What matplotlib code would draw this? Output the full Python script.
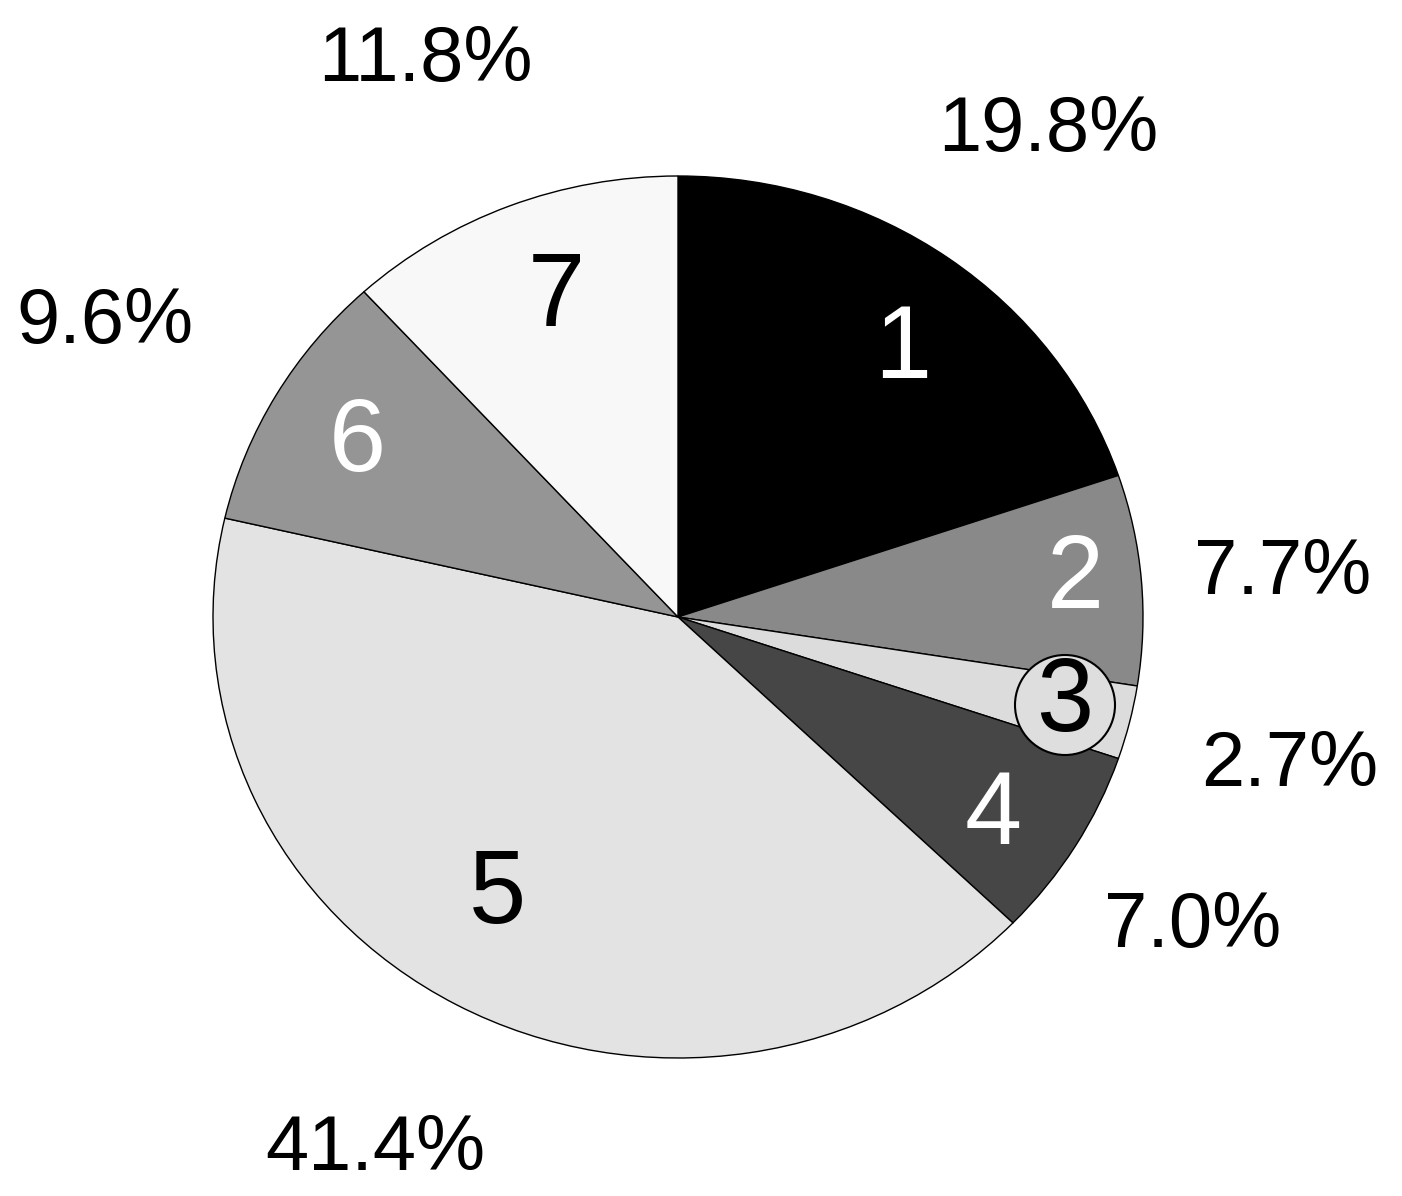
import matplotlib.pyplot as plt
from matplotlib.patches import Ellipse
import numpy as np

plt.rcParams['font.family'] = ['Liberation Sans', 'DejaVu Sans']

# --- data ---
segments = ["1", "2", "3", "4", "5", "6", "7"]
shares = [19.8, 7.7, 2.7, 7.0, 41.4, 9.6, 11.8]
pct_labels = ["19.8%", "7.7%", "2.7%", "7.0%", "41.4%", "9.6%", "11.8%"]
colors = ["#000000", "#898989", "#dcdcdc", "#464646", "#e3e3e3", "#959595", "#f8f8f8"]
num_colors = ["white", "white", "black", "white", "black", "white", "black"]

# pixel geometry of the (slightly squashed) pie in the target image
W, H = 1402, 1196
cx, cy, rx, ry = 678, 617, 465, 441


def to_data(px, py):
    return (px - cx) / rx, (cy - py) / ry


# label centres, in image pixels
num_pos = [(903, 352), (1075, 582), (1065, 705), (993, 818), (497, 897), (357, 445), (556, 300)]
pct_pos = [(1048, 131), (1283, 573), (1290, 765), (1193, 927), (375, 1150), (105, 322), (425, 60)]

fig = plt.figure(figsize=(W / 100, H / 100), dpi=100)
ax = fig.add_axes([0, 0, 1, 1])

ax.pie(shares, colors=colors, startangle=90, counterclock=False,
       wedgeprops=dict(edgecolor="black", linewidth=1.0))
ax.set_aspect("auto")
ax.set_xlim(-cx / rx, (W - cx) / rx)
ax.set_ylim((cy - H) / ry, cy / ry)
ax.axis("off")

# circle behind label 3
x3, y3 = to_data(*num_pos[2])
ax.add_patch(Ellipse((x3, y3), 2 * 50 / rx, 2 * 50 / ry, facecolor="#dedede",
                     edgecolor="black", linewidth=1.5, zorder=3))

for name, (px, py), col in zip(segments, num_pos, num_colors):
    x, y = to_data(px, py)
    ax.text(x, y, name, color=col, fontsize=74, ha="center", va="center", zorder=4)

for lab, (px, py) in zip(pct_labels, pct_pos):
    x, y = to_data(px, py)
    ax.text(x, y, lab, color="black", fontsize=56, ha="center", va="center")

fig.savefig("out.png", dpi=100)
